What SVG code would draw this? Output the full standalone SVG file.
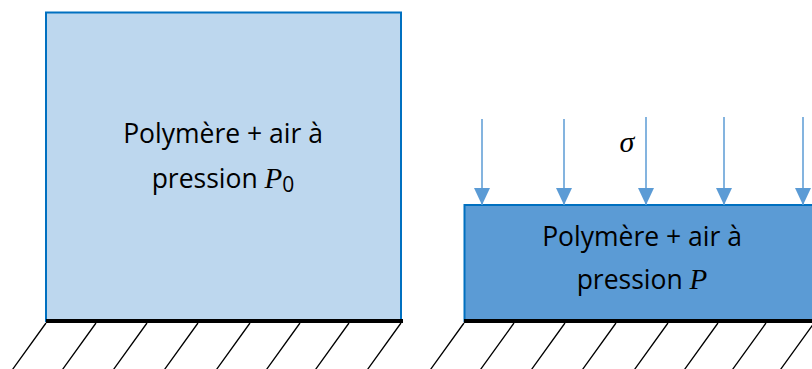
<svg xmlns="http://www.w3.org/2000/svg" width="812" height="369" viewBox="0 0 812 369">
<defs>
<style>
.lbl{font-family:"Open Sans","Liberation Sans",sans-serif;font-size:26.5px;fill:#000;text-anchor:middle}
.math{font-family:"Liberation Serif","DejaVu Serif",serif;font-style:italic;font-size:29px}
.hatch{stroke:#000;stroke-width:1.3;fill:none}
.ground{stroke:#000;stroke-width:4}
.arr{stroke:#5B9BD5;stroke-width:1.5;fill:none;marker-end:url(#ah)}
</style>
<marker id="ah" markerWidth="17" markerHeight="16" refX="17" refY="8" orient="auto" markerUnits="userSpaceOnUse" viewBox="0 0 17 16">
<path d="M0,0 L17,8 L0,16 Z" fill="#5B9BD5"/>
</marker>
</defs>
<g id="left-block">
<rect x="46" y="12.5" width="355" height="308.5" fill="#BDD7EE" stroke="#0070C0" stroke-width="2"/>
<text class="lbl" x="223" y="143">Polymère + air à</text>
<text class="lbl" x="223" y="188">pression <tspan class="math">P</tspan><tspan font-size="21" dy="4">0</tspan></text>
</g>
<g id="left-ground">
<line class="ground" x1="46" y1="321" x2="403" y2="321"/>
<g class="hatch">
<path d="M46,323 l-36,50 M96,323 l-36,50 M147,323 l-36,50 M198,323 l-36,50 M250,323 l-36,50 M300,323 l-36,50 M349,323 l-36,50 M401,323 l-36,50"/>
</g>
</g>
<g id="right-block">
<rect x="464.5" y="205" width="360" height="116" fill="#5B9BD5" stroke="#0070C0" stroke-width="2"/>
<text class="lbl" x="642" y="246">Polymère + air à</text>
<text class="lbl" x="642" y="289">pression <tspan class="math">P</tspan></text>
</g>
<g id="right-ground">
<line class="ground" x1="464" y1="321" x2="812" y2="321"/>
<g class="hatch">
<path d="M464,323 l-36,50 M514,323 l-36,50 M565,323 l-36,50 M616,323 l-36,50 M668,323 l-36,50 M718,323 l-36,50 M766,323 l-36,50 M814,323 l-36,50"/>
</g>
</g>
<g id="connectors">
<line class="arr" x1="482" y1="119" x2="482" y2="205"/>
<line class="arr" x1="564" y1="119" x2="564" y2="205"/>
<line class="arr" x1="646" y1="117" x2="646" y2="205"/>
<line class="arr" x1="724" y1="117" x2="724" y2="205"/>
<line class="arr" x1="803" y1="117" x2="803" y2="205"/>
</g>
<text x="627" y="152" font-family="Liberation Serif,DejaVu Serif,serif" font-style="italic" font-size="30" text-anchor="middle">σ</text>
</svg>
